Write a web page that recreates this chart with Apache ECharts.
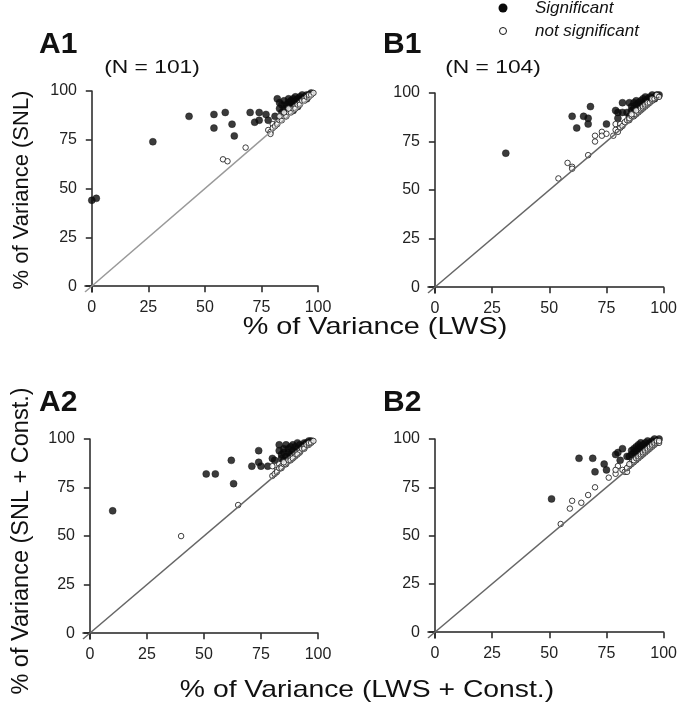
<!DOCTYPE html>
<html lang="en">
<head>
  <meta charset="UTF-8">
  <title>Variance explained</title>
  <style>
    * { margin: 0; padding: 0; }
    body { background: #fff; }
    #chart { width: 680px; height: 707px; }
  </style>
</head>
<body>
  <div id="chart"></div>
  <script src="https://cdn.jsdelivr.net/npm/echarts@6/dist/echarts.min.js"></script>
  <script>
    // tick values shared by every axis
    var ticks = [0, 25, 50, 75, 100]

    // A1: SNL vs LWS
    var a1Sig = [[0,44],[2,45],[27,74],[43,87],[54,88],[54,81],[59,89],[62,83],[63,77],[70,89],[72,84],[74,85],[74,89],[77,88],[78,85],[81,87],[82,96],
      [83,91],[84,93],[84,89],[85,95],[85,91],[86,93],[86,90],[87,96],[87,94],[87,92],[88,95],[88,91],[88,93],[89,96],[89,94],[89,92],[90,97],[90,95],[90,93],
      [91,96],[91,94],[92,97],[92,95],[93,96],[93,98],[94,97],[95,98],[95,96],[96,98],[97,99],[86,88],[85,87],[83,94],[91,92],[89,90]]
    var a1Ns = [[58,65],[60,64],[68,71],[78,80],[79,79],[80,83],[79,78],[80,81],[81,82],[82,84],[82,83],[83,85],[84,86],[84,85],[85,87],[86,88],[86,87],
      [87,89],[88,90],[88,89],[89,91],[90,92],[90,91],[91,93],[92,94],[92,93],[93,95],[94,96],[94,95],[95,97],[96,97],[96,98],[97,98],[98,99],[85,89],[87,91],[83,87]]

    // B1
    var b1Sig = [[31,69],[60,88],[62,82],[65,88],[68,93],[67,87],[67,84],[75,84],[80,87],[79,91],[80,90],[82,90],[82,95],[85,95],[84,90],[86,93],[86,91],
      [87,95],[87,92],[88,94],[88,96],[89,93],[89,95],[90,96],[90,94],[91,97],[91,95],[92,96],[92,98],[93,97],[94,98],[94,96],[95,99],[96,98],[96,97],
      [97,99],[98,99],[85,88],[88,90]]
    var b1Ns = [[54,56],[58,64],[60,62],[60,61],[67,68],[70,78],[70,75],[73,80],[73,78],[75,79],[78,78],[79,84],[79,81],[81,84],[81,82],[80,80],[82,83],
      [83,85],[84,86],[85,86],[85,87],[86,88],[87,88],[87,89],[88,89],[89,91],[89,90],[90,91],[90,92],[91,92],[91,93],[92,93],[92,94],[93,94],[93,95],
      [94,95],[95,96],[95,97],[96,97],[97,98],[97,99],[98,98],[86,89],[88,91]]

    // A2: with constant
    var a2Sig = [[10,63],[51,82],[55,82],[62,89],[63,77],[71,86],[74,88],[75,86],[74,94],[78,86],[80,90],[81,89],[83,97],[83,94],[84,92],[84,90],[85,95],
      [85,93],[86,97],[86,91],[87,95],[87,93],[88,96],[88,92],[89,97],[89,94],[90,96],[90,93],[91,95],[91,98],[92,97],[92,94],[93,96],[94,98],[94,97],
      [95,98],[96,99],[97,99],[85,89],[87,90],[88,91]]
    var a2Ns = [[40,50],[65,66],[80,81],[81,82],[82,84],[80,86],[83,87],[82,83],[83,85],[84,86],[84,85],[85,87],[86,88],[86,87],[87,89],[88,90],[88,89],
      [89,91],[90,92],[90,91],[91,93],[92,94],[92,93],[93,95],[94,96],[94,95],[95,97],[96,97],[96,98],[97,98],[98,99],[85,88],[89,90],[91,92]]

    // B2
    var b2Sig = [[51,69],[63,90],[69,90],[70,83],[74,87],[75,84],[79,92],[80,93],[82,95],[81,89],[84,91],[85,91],[86,94],[87,93],[87,95],[88,96],[88,94],
      [89,95],[89,97],[90,96],[90,94],[91,97],[91,95],[92,98],[92,96],[93,97],[93,99],[94,98],[94,96],[95,99],[95,97],[96,98],[96,100],[97,99],[98,100],
      [86,92],[88,92],[90,98]]
    var b2Ns = [[55,56],[59,64],[60,68],[64,67],[67,71],[70,75],[76,80],[79,82],[80,86],[79,84],[82,84],[83,83],[84,83],[86,88],[88,89],[85,86],[86,87],
      [87,88],[87,89],[88,90],[89,90],[89,91],[90,91],[90,92],[91,92],[91,93],[92,93],[92,94],[93,94],[93,95],[94,95],[94,96],[95,96],[95,97],[96,97],
      [96,98],[97,98],[97,99],[98,98],[98,99],[84,85],[85,87]]

    var diag = [[-3, -3], [98, 98]]

    var panels = [
      { grid: { left: 85, top: 91, width: 233, height: 201 }, sig: a1Sig, ns: a1Ns, lineColor: '#999' },
      { grid: { left: 428, top: 93, width: 237, height: 200 }, sig: b1Sig, ns: b1Ns, lineColor: '#666' },
      { grid: { left: 83, top: 439, width: 235, height: 200 }, sig: a2Sig, ns: a2Ns, lineColor: '#666' },
      { grid: { left: 428, top: 439, width: 237, height: 199 }, sig: b2Sig, ns: b2Ns, lineColor: '#666' }
    ]

    var font = '"Liberation Sans", Arial, Helvetica, sans-serif'

    function axis(i) {
      return {
        type: 'value', gridIndex: i, min: -3, max: 100,
        axisLine: { show: true, lineStyle: { color: '#222', width: 1.5 } },
        axisTick: { show: true, length: 6, customValues: ticks, lineStyle: { color: '#222', width: 1.5 } },
        axisLabel: { customValues: ticks, fontSize: 16, color: '#222', fontFamily: font, margin: 8 },
        splitLine: { show: false }
      }
    }

    var grids = [], xAxes = [], yAxes = [], series = []
    panels.forEach(function (p, i) {
      grids.push(p.grid)
      xAxes.push(axis(i))
      yAxes.push(axis(i))
      series.push({
        type: 'line', xAxisIndex: i, yAxisIndex: i, data: diag, symbol: 'none', silent: true,
        lineStyle: { color: p.lineColor, width: 1.5 }
      })
      series.push({
        name: 'Significant', type: 'scatter', xAxisIndex: i, yAxisIndex: i, data: p.sig,
        symbolSize: 7, itemStyle: { color: '#0a0a0a', borderColor: '#0a0a0a', borderWidth: 0.5 }
      })
      series.push({
        name: 'not significant', type: 'scatter', xAxisIndex: i, yAxisIndex: i, data: p.ns,
        symbolSize: 5.5, itemStyle: { color: '#fff', borderColor: '#111', borderWidth: 1 }
      })
    })

    // sx: horizontal stretch of the text, the source figure is a little wide
    function label(text, x, y, size, opts) {
      opts = opts || {}
      return {
        type: 'text', x: x, y: y, rotation: opts.rotate ? Math.PI / 2 : 0,
        scaleX: opts.sx || 1,
        style: {
          text: text, fontSize: size, fontWeight: opts.bold ? 'bold' : 'normal', fontFamily: font,
          fill: '#111', align: opts.bold ? 'left' : 'center', verticalAlign: 'middle'
        }
      }
    }

    var graphics = [
      label('A1', 39, 45, 30, { bold: true }), label('B1', 383, 45, 30, { bold: true }),
      label('A2', 39, 403, 30, { bold: true }), label('B2', 383, 403, 30, { bold: true }),
      label('(N = 101)', 152, 68, 19, { sx: 1.2 }), label('(N = 104)', 493, 68, 19, { sx: 1.2 }),
      label('% of Variance (SNL)', 22, 190, 22, { rotate: true }),
      label('% of Variance (SNL + Const.)', 22, 541, 23.5, { rotate: true }),
      label('% of Variance (LWS)', 375, 327, 24, { sx: 1.2 }),
      label('% of Variance (LWS + Const.)', 367, 690, 24, { sx: 1.18 }),
      { type: 'circle', shape: { cx: 503, cy: 8, r: 4.5 }, style: { fill: '#0a0a0a' } },
      { type: 'circle', shape: { cx: 503, cy: 31, r: 3.5 }, style: { fill: '#fff', stroke: '#111', lineWidth: 1 } },
      { type: 'text', x: 535, y: 8, style: { text: 'Significant', fontSize: 17, fontStyle: 'italic', fontFamily: font, fill: '#111', verticalAlign: 'middle' } },
      { type: 'text', x: 535, y: 31, style: { text: 'not significant', fontSize: 17, fontStyle: 'italic', fontFamily: font, fill: '#111', verticalAlign: 'middle' } }
    ]

    var myChart = echarts.init(document.getElementById('chart'))
    myChart.setOption({
      animation: false,
      grid: grids,
      xAxis: xAxes,
      yAxis: yAxes,
      series: series,
      graphic: graphics
    })
  </script>
</body>
</html>
